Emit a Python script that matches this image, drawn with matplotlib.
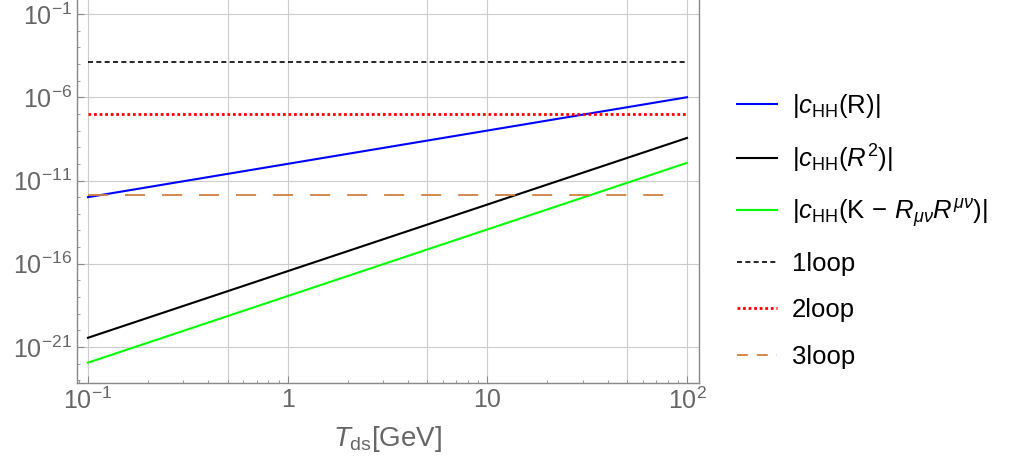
import numpy as np
import matplotlib
matplotlib.use("Agg")
import matplotlib.pyplot as plt
from matplotlib.lines import Line2D
from matplotlib.ticker import FixedLocator, FixedFormatter, NullFormatter

plt.rcParams['font.family'] = ['Liberation Sans', 'DejaVu Sans']
plt.rcParams['mathtext.fontset'] = 'custom'
plt.rcParams['mathtext.rm'] = 'Liberation Sans'
plt.rcParams['mathtext.it'] = 'Liberation Sans:italic'
plt.rcParams['mathtext.bf'] = 'Liberation Sans:bold'

# data (log-log, straight lines)
T = [0.1, 1, 10, 100]
c_R = [1.0e-12, 1.0e-10, 1.0e-8, 1.0e-6]
c_R2 = [3.6e-21, 3.6e-17, 3.6e-13, 3.6e-9]
c_K = [1.15e-22, 1.15e-18, 1.15e-14, 1.15e-10]
T_loop = [0.1, 100]
T_loop3 = [0.1, 80]
loop1 = [1.3e-4, 1.3e-4]
loop2 = [1.0e-7, 1.0e-7]
loop3 = [1.4e-12, 1.4e-12]

labels = [r'$|c_{\mathrm{HH}}(\mathrm{R})|$',
          r'$|c_{\mathrm{HH}}(R^2)|$',
          r'$|c_{\mathrm{HH}}(\mathrm{K}\,-\,R_{\mu\nu}R^{\mu\nu})|$',
          '1loop', '2loop', '3loop']

xticks = [0.1, 1, 10, 100]
xticklabels = [r'$\mathregular{10^{-1}}$', '1', '10', r'$\mathregular{10^{2}}$']
yticks = [1e-21, 1e-16, 1e-11, 1e-6, 1e-1]
yticklabels = [r'$\mathregular{10^{-21}}$', r'$\mathregular{10^{-16}}$', r'$\mathregular{10^{-11}}$',
               r'$\mathregular{10^{-6}}$', r'$\mathregular{10^{-1}}$']
xgrid = [0.1, 0.5, 1, 5, 10, 50, 100]

fig = plt.figure(figsize=(10.15, 4.66), dpi=100)
ax = fig.add_axes([77/1015, 83/466, (699-77)/1015, 383/466])

ax.set_xscale('log')
ax.set_yscale('log')
ax.set_xlim(10**-1.055, 10**2.06)
ax.set_ylim(10**-23.16, 10**-0.16)

h1, = ax.plot(T, c_R, color='#0000FF', lw=1.5)
h2, = ax.plot(T, c_R2, color='black', lw=1.5)
h3, = ax.plot(T, c_K, color='#00FF00', lw=1.5)
h4, = ax.plot(T_loop, loop1, color='black', lw=1.2, dashes=(3, 2))
h5, = ax.plot(T_loop, loop2, color='#FF0000', lw=2.0, dashes=(1, 1))
ax.plot(T_loop3, loop3, color='#D08040', lw=1.3, dashes=(11.1, 9.4))
# shorter dash pattern for the legend sample, as in the original
h6 = Line2D([], [], color='#D08040', lw=1.3, dashes=(6, 5))

for g in xgrid:
    ax.axvline(g, color='#cccccc', lw=0.8, zorder=0)
for g in yticks:
    ax.axhline(g, color='#cccccc', lw=0.8, zorder=0)

ax.xaxis.set_major_locator(FixedLocator(xticks))
ax.xaxis.set_major_formatter(FixedFormatter(xticklabels))
ax.yaxis.set_major_locator(FixedLocator(yticks))
ax.yaxis.set_major_formatter(FixedFormatter(yticklabels))
ax.yaxis.set_minor_locator(FixedLocator([10.0**k for k in range(-23, 0)]))
ax.yaxis.set_minor_formatter(NullFormatter())
xminor = [m * 10.0**k for k in range(-2, 3) for m in range(2, 10)]
ax.xaxis.set_minor_locator(FixedLocator(xminor))
ax.xaxis.set_minor_formatter(NullFormatter())

ax.tick_params(which='major', direction='in', length=5, width=0.8, color='#888888',
               labelsize=18, labelcolor='#666666', top=False, right=False)
ax.tick_params(which='minor', direction='in', length=2.5, width=0.6, color='#888888',
               top=False, right=False)
for s in ['left', 'bottom', 'right']:
    ax.spines[s].set_color('#888888')
    ax.spines[s].set_linewidth(1.0)
ax.spines['top'].set_visible(False)

ax.set_xlabel(r'$T_{\mathrm{ds}}$[GeV]', fontsize=20, color='#666666', labelpad=7)

fig.legend([h1, h2, h3, h4, h5, h6], labels, loc='upper left',
           bbox_to_anchor=(737/1015, 1 - 92/466), frameon=False, fontsize=18.5,
           handlelength=1.55, handletextpad=0.6, labelspacing=0.87,
           borderpad=0, borderaxespad=0)

fig.savefig('out.png', dpi=100)
